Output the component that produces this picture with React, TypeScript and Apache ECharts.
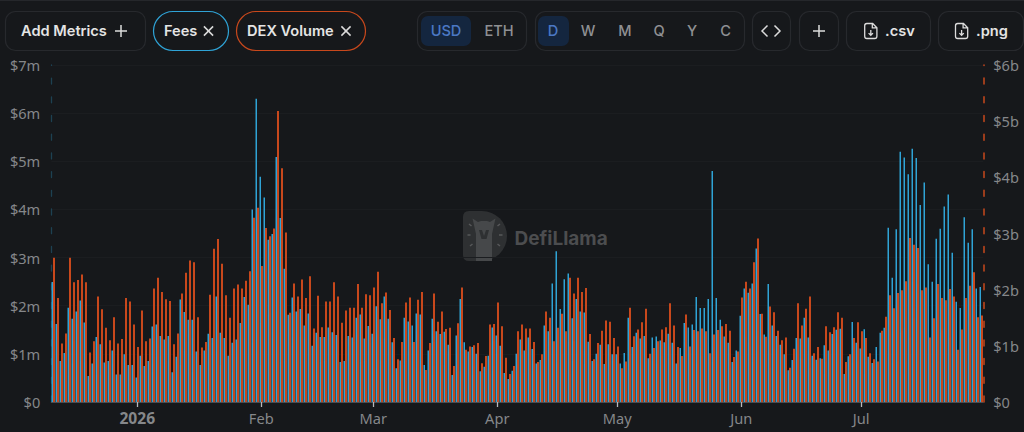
import React, { useEffect, useRef } from "react";
import * as echarts from "echarts";

const START_DATE = Date.UTC(2025, 11, 11);
const DAY_COUNT = 233;

const feesMillions = [
  2.49,1.62,0.85,1.02,1.96,1.73,1.88,2.11,1.65,0.54,
  0.80,1.35,1.20,0.82,0.85,1.07,0.57,0.57,0.99,0.77,
  0.77,0.51,0.96,0.75,0.85,1.57,1.61,1.37,1.30,1.37,
  0.62,0.94,2.13,1.87,1.71,1.71,1.05,0.77,1.07,1.42,
  1.33,2.19,1.44,1.33,0.96,1.23,1.30,1.64,2.18,2.02,
  4.00,6.30,4.68,4.25,3.37,3.49,5.09,3.82,2.77,1.81,
  2.17,1.88,1.93,1.59,1.84,1.17,1.44,1.35,1.35,1.55,
  1.45,1.39,0.83,0.85,1.37,1.34,1.75,1.82,1.32,1.58,
  1.42,1.99,1.72,2.19,1.73,1.24,0.70,0.86,1.75,1.67,
  1.59,1.84,1.82,0.77,1.07,1.73,1.47,1.41,1.46,1.19,
  0.56,1.38,2.14,1.24,1.05,1.14,1.00,0.64,0.73,0.96,
  1.55,1.38,1.17,0.60,0.48,0.65,1.00,1.30,1.07,1.34,
  1.10,0.80,0.87,1.59,1.47,2.46,3.13,1.93,2.55,2.67,
  1.74,2.14,1.88,1.86,1.25,0.85,1.00,1.19,0.79,1.20,
  0.99,0.99,0.80,1.02,1.75,1.14,1.44,1.32,1.37,0.91,
  1.34,1.36,1.28,1.24,1.42,1.23,0.80,1.12,1.64,1.55,
  1.61,2.18,1.95,1.95,2.14,4.80,2.16,1.71,1.36,1.23,
  0.83,1.07,1.79,2.36,2.27,2.46,3.19,1.83,1.40,2.45,
  1.59,1.37,1.19,0.99,0.66,0.87,1.33,1.32,1.75,1.34,
  0.96,0.88,0.91,1.18,1.07,1.41,1.50,1.52,0.58,0.95,
  1.66,1.23,1.11,1.51,0.94,0.81,1.14,1.44,1.54,3.62,
  2.58,3.59,5.20,5.08,4.73,5.26,5.07,4.09,4.56,2.86,
  2.50,3.39,3.60,4.06,4.31,3.10,2.08,1.95,3.84,3.31,
  3.59,2.36,2.39,
];

const dexVolumeBillions = [
  2.57,1.85,1.04,1.22,2.57,2.13,2.17,2.27,2.13,0.88,
  1.08,1.88,1.65,1.32,1.10,1.51,1.04,1.12,1.85,1.79,
  1.38,0.98,1.63,1.08,1.13,2.02,2.21,1.96,1.83,1.80,
  1.03,1.22,1.93,2.30,2.52,2.49,1.51,0.97,1.07,1.91,
  2.73,2.90,2.46,1.90,1.50,2.02,2.09,2.02,2.16,2.33,
  3.28,3.46,2.42,3.10,2.95,3.09,5.18,4.16,3.02,1.59,
  2.11,1.88,2.18,1.85,2.24,1.31,1.89,1.33,1.79,1.79,
  2.13,1.88,1.41,1.63,1.68,1.68,2.10,1.68,1.92,1.90,
  2.04,2.32,1.76,1.95,1.64,1.14,0.76,1.07,1.77,1.86,
  1.07,1.82,1.96,0.57,1.05,1.93,1.43,1.61,1.30,1.32,
  0.64,1.40,2.04,0.93,0.99,1.01,1.05,0.69,0.82,1.38,
  1.39,1.77,1.35,0.79,0.50,0.64,1.26,1.38,1.31,1.31,
  1.07,0.71,0.85,1.61,1.50,1.08,1.32,1.57,1.26,2.21,
  1.93,2.21,1.96,2.03,1.21,0.76,1.05,1.27,1.45,1.43,
  1.14,0.99,0.60,0.72,1.68,1.17,1.29,1.42,1.66,0.86,
  0.96,1.08,1.29,1.33,1.76,1.36,0.98,0.82,1.56,0.99,
  1.28,1.26,1.31,1.26,0.87,1.20,1.28,1.35,1.39,1.27,
  0.80,0.90,1.86,2.14,2.02,2.49,2.91,1.57,1.16,1.70,
  1.60,1.27,1.10,1.15,0.61,0.95,1.76,1.36,1.66,1.88,
  0.87,0.98,0.77,1.35,1.24,1.33,1.60,1.50,0.71,0.85,
  1.14,1.42,1.26,1.14,0.87,0.76,0.72,1.27,1.52,1.90,
  1.67,1.94,1.99,2.15,2.92,2.80,2.74,1.99,2.04,1.15,
  1.49,2.10,1.85,1.81,2.01,1.88,0.93,1.29,1.85,2.07,
  2.31,1.51,1.54,
];

const monthLabels: Record<string, string> = {
  "2026-01-01": "{year|2026}",
  "2026-02-01": "Feb",
  "2026-03-01": "Mar",
  "2026-04-01": "Apr",
  "2026-05-01": "May",
  "2026-06-01": "Jun",
  "2026-07-01": "Jul",
};

const categories = Array.from({ length: DAY_COUNT }, (_, i) =>
  new Date(START_DATE + i * 86400000).toISOString().slice(0, 10)
);

const BG = "#16181b";
const BORDER = "#27292d";
const BLUE = "#2fa3d6";
const ORANGE = "#c8481c";
const AXIS_GREY = "#85878a";
const UI_FONT = "Inter, 'Noto Sans', sans-serif";
const AXIS_FONT = "'Noto Sans', sans-serif";

echarts.graphic.registerShape(
  "fileIcon",
  echarts.graphic.extendPath(
    "M2.2 0 L8 0 L12.2 4.2 L12.2 12.8 Q12.2 15 10 15 L2.2 15 Q0 15 0 12.8 L0 2.2 Q0 0 2.2 0 Z M7.6 0 L7.6 4.4 L12.2 4.4 M6.1 6.6 L6.1 11.6 M3.9 9.6 L6.1 11.8 L8.3 9.6",
    {}
  )
);
echarts.graphic.registerShape(
  "llamaBadge",
  echarts.graphic.extendPath(
    "M6 0 L19 0 A25 25 0 0 1 19 50 L6 50 Q0 50 0 44 L0 6 Q0 0 6 0 Z",
    {}
  )
);
echarts.graphic.registerShape(
  "llamaHead",
  echarts.graphic.extendPath(
    "M13 50 L13 23 L11 14 L9.5 7.5 L15 11 L18 10 L24 10 L27 11 L32.5 7.5 L31 14 L29 23 L29 50 Z",
    {}
  )
);
echarts.graphic.registerShape(
  "llamaRays",
  echarts.graphic.extendPath(
    "M6 13 L8.5 15 M4.5 24 L7.5 24 M7 35 L9.5 33 M37 13 L34.5 15 M39.5 24 L36 24 M37 35 L34.5 33",
    {}
  )
);
echarts.graphic.registerShape(
  "llamaFace",
  echarts.graphic.extendPath(
    "M16 19 L19 19 L21 25 L23 19 L26 19 L23.5 28 L18.5 28 Z",
    {}
  )
);

function button(x: number, w: number, r: number, stroke: string) {
  return {
    type: "rect",
    shape: { x: x + 0.5, y: 11.5, width: w, height: 39, r },
    style: { fill: "transparent", stroke, lineWidth: 1.2 },
    silent: true,
  };
}
function label(
  text: string,
  x: number,
  color: string,
  align: "left" | "center" = "left",
  fontWeight = 600
) {
  return {
    type: "text",
    x,
    y: 31,
    silent: true,
    style: {
      text,
      fill: color,
      align,
      verticalAlign: "middle",
      font: `${fontWeight} 14.6px ${UI_FONT}`,
    },
  };
}
function stroke(type: string, shape: object, color = "#dcdcdc", lineWidth = 1.5) {
  return { type, shape, silent: true, style: { stroke: color, lineWidth, fill: "none" } };
}
function plus(cx: number, half = 6) {
  return [
    stroke("line", { x1: cx - half, y1: 31, x2: cx + half, y2: 31 }),
    stroke("line", { x1: cx, y1: 31 - half, x2: cx, y2: 31 + half }),
  ];
}
function cross(cx: number) {
  return [
    stroke("line", { x1: cx - 4.6, y1: 26.4, x2: cx + 4.6, y2: 35.6 }),
    stroke("line", { x1: cx - 4.6, y1: 35.6, x2: cx + 4.6, y2: 26.4 }),
  ];
}
function file(x: number) {
  return {
    type: "fileIcon",
    x,
    y: 23.5,
    silent: true,
    style: { stroke: "#dcdcdc", fill: "none", lineWidth: 1.3 },
  };
}

const toolbar = [
  { type: "rect", shape: { x: 0, y: 0, width: 1024, height: 1 }, style: { fill: "#25272b" }, silent: true },
  button(5, 140, 10, BORDER),
  label("Add Metrics", 21, "#e4e4e4"),
  ...plus(121),
  button(153, 75, 19.5, BLUE),
  label("Fees", 164, "#e4e4e4"),
  ...cross(208.5),
  button(236, 129, 19.5, ORANGE),
  label("DEX Volume", 247, "#e4e4e4"),
  ...cross(346),
  button(417, 109, 10, BORDER),
  {
    type: "rect",
    shape: { x: 421, y: 16, width: 50, height: 30, r: 7 },
    style: { fill: "#14263f" },
    silent: true,
  },
  label("USD", 446, "#4b78c4", "center", 500),
  label("ETH", 499, "#8f9093", "center", 500),
  button(535, 209, 10, BORDER),
  {
    type: "rect",
    shape: { x: 538, y: 16, width: 31, height: 30, r: 7 },
    style: { fill: "#14263f" },
    silent: true,
  },
  label("D", 553, "#4b78c4", "center", 500),
  label("W", 588, "#8f9093", "center", 500),
  label("M", 625, "#8f9093", "center", 500),
  label("Q", 659, "#8f9093", "center", 500),
  label("Y", 692, "#8f9093", "center", 500),
  label("C", 725.5, "#8f9093", "center", 500),
  button(752, 38, 10, BORDER),
  stroke("polyline", { points: [[767.5, 25.5], [762, 31], [767.5, 36.5]] }),
  stroke("polyline", { points: [[774.5, 25.5], [780, 31], [774.5, 36.5]] }),
  button(799, 39, 10, BORDER),
  ...plus(819),
  button(846, 84, 10, BORDER),
  file(864.7),
  label(".csv", 885, "#e4e4e4"),
  button(938, 85, 10, BORDER),
  file(955.5),
  label(".png", 976, "#e4e4e4"),
];

const watermark = [
  { type: "llamaBadge", x: 463, y: 211, silent: true, z: -1, style: { fill: "#2e3032" } },
  { type: "llamaHead", x: 463, y: 211, silent: true, z: -1, style: { fill: "#46484a" } },
  { type: "llamaFace", x: 463, y: 211, silent: true, z: -1, style: { fill: "#2e3032" } },
  {
    type: "llamaRays",
    x: 463,
    y: 211,
    silent: true,
    z: -1,
    style: { stroke: "#57585a", fill: "none", lineWidth: 1.5 },
  },
  {
    type: "text",
    x: 514.5,
    y: 238,
    silent: true,
    z: -1,
    style: {
      text: "DefiLlama",
      fill: "#4c4d4f",
      verticalAlign: "middle",
      font: `700 19px ${UI_FONT}`,
    },
  },
];

export default function App() {
  const ref = useRef<HTMLDivElement>(null);

  useEffect(() => {
    const chart = echarts.init(ref.current!, undefined, { renderer: "svg" });
    chart.setOption({
      animation: false,
      backgroundColor: BG,
      grid: { left: 51.25, right: 40.75, top: 65, bottom: 30, containLabel: false },
      graphic: { elements: [...watermark, ...toolbar] },
      xAxis: {
        type: "category",
        data: categories,
        boundaryGap: true,
        axisLine: { show: true, lineStyle: { color: "#4b4d51", width: 1 } },
        axisTick: {
          show: true,
          alignWithLabel: true,
          length: 5,
          interval: (_: number, v: string) => v in monthLabels,
          lineStyle: { color: "#b5b6b8", width: 1.3 },
        },
        axisLabel: {
          interval: (_: number, v: string) => v in monthLabels,
          formatter: (v: string) => monthLabels[v] ?? "",
          color: AXIS_GREY,
          fontFamily: AXIS_FONT,
          fontSize: 14.6,
          margin: 8,
          rich: {
            year: { fontWeight: 700, color: AXIS_GREY, fontFamily: AXIS_FONT, fontSize: 15.6 },
          },
        },
        splitLine: { show: false },
      },
      yAxis: [
        {
          type: "value",
          min: 0,
          max: 7,
          interval: 1,
          axisLine: { show: true, lineStyle: { color: "#1d4152", type: [6, 12.7], width: 1.3 } },
          axisTick: { show: false },
          axisLabel: {
            color: AXIS_GREY,
            fontFamily: AXIS_FONT,
            fontSize: 14.6,
            margin: 11,
            formatter: (v: number) => (v === 0 ? "$0" : `$${v}m`),
          },
          splitLine: { show: true, lineStyle: { color: "#1b1d20", width: 1 } },
        },
        {
          type: "value",
          min: 0,
          max: 6,
          interval: 1,
          position: "right",
          axisLine: { show: true, lineStyle: { color: ORANGE, type: [6, 12.7], width: 1.5 } },
          axisTick: { show: false },
          axisLabel: {
            color: AXIS_GREY,
            fontFamily: AXIS_FONT,
            fontSize: 14.6,
            margin: 10,
            formatter: (v: number) => (v === 0 ? "$0" : `$${v}b`),
          },
          splitLine: { show: false },
        },
      ],
      series: [
        {
          name: "Fees",
          type: "bar",
          yAxisIndex: 0,
          data: feesMillions,
          barWidth: 1.5,
          barGap: 0,
          itemStyle: { color: BLUE },
        },
        {
          name: "DEX Volume",
          type: "bar",
          yAxisIndex: 1,
          data: dexVolumeBillions,
          barWidth: 2,
          barGap: 0,
          itemStyle: { color: ORANGE },
        },
      ],
    });
    return () => chart.dispose();
  }, []);

  return (
    <div
      ref={ref}
      style={{ position: "fixed", left: 0, top: 0, width: 1024, height: 432 }}
    />
  );
}
